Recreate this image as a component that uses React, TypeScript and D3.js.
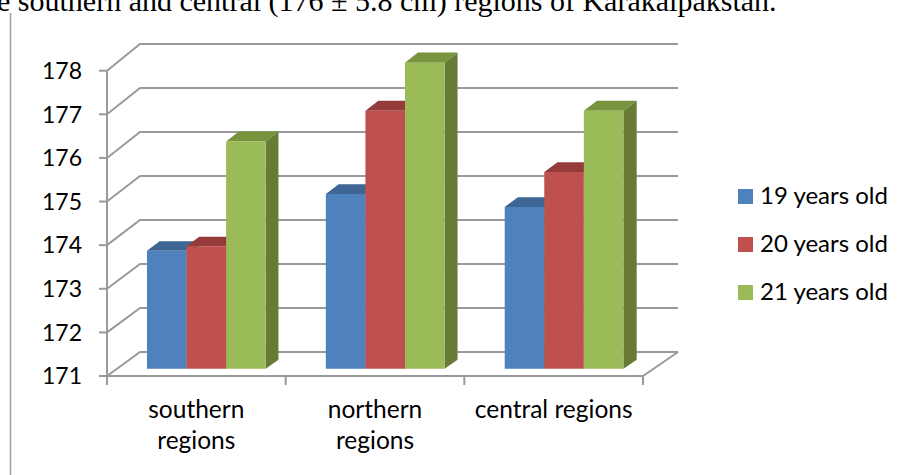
import React from "react";
import * as d3 from "d3";

// Body height by region and age group (cm)
const categories = ["southern regions", "northern regions", "central regions"];
const categoryLines = [["southern", "regions"], ["northern", "regions"], ["central regions"]];
const seriesNames = ["19 years old", "20 years old", "21 years old"];
const age19 = [173.7, 175.0, 174.7];
const age20 = [173.8, 176.9, 175.5];
const age21 = [176.2, 178.0, 176.9];
const yTicks = [171, 172, 173, 174, 175, 176, 177, 178];
const captionText = "e southern and central (176 \u00b1 5.8 cm) regions of Karakalpakstan.";

const seriesValues = [age19, age20, age21];
const frontColors = ["#4F81BD", "#C0504D", "#9BBB59"];
const topColors = ["#3E6593", "#953B39", "#77933C"];
const sideColors = ["#385D8A", "#8C3836", "#677B37"];

const W = 906;
const H = 475;
const FONT = "Lato, 'Open Sans', sans-serif";
const GRID = "#9a9a9a";

export default function App() {
  // front plane of the 3D box
  const xFront = d3.scaleBand<string>().domain(categories).range([107, 643]);
  const yFront = d3.scaleLinear().domain([171, 178]).range([376, 70.7]);
  // back wall
  const xBack = d3.scaleLinear().domain([107, 643]).range([140, 678]);
  const yBack = d3.scaleLinear().domain([171, 178]).range([352, 44]);
  const x1 = d3
    .scaleBand<string>()
    .domain(seriesNames)
    .range([0, xFront.bandwidth()])
    .paddingInner(0)
    .paddingOuter(0.76);

  const proj = (x: number, v: number, t: number): [number, number] => {
    const xf = x;
    const xb = xBack(x);
    const yf = yFront(v);
    const yb = yBack(v);
    return [xf + t * (xb - xf), yf + t * (yb - yf)];
  };
  const poly = (pts: [number, number][]) => pts.map((p) => p.join(",")).join(" ");

  const t0 = 0.3;
  const t1 = 0.68;
  const vMin = 171;
  const [x0, x1r] = xFront.range();

  const bars: React.ReactNode[] = [];
  categories.forEach((cat, ci) => {
    seriesNames.forEach((s, si) => {
      const v = seriesValues[si][ci];
      const l = (xFront(cat) as number) + (x1(s) as number);
      const r = l + x1.bandwidth();
      const front = poly([proj(l, vMin, t0), proj(r, vMin, t0), proj(r, v, t0), proj(l, v, t0)]);
      const top = poly([proj(l, v, t0), proj(r, v, t0), proj(r, v, t1), proj(l, v, t1)]);
      const side = poly([proj(r, vMin, t0), proj(r, vMin, t1), proj(r, v, t1), proj(r, v, t0)]);
      bars.push(
        <g key={`${ci}-${si}`}>
          <polygon points={side} fill={sideColors[si]} />
          <polygon points={top} fill={topColors[si]} />
          <polygon points={front} fill={frontColors[si]} />
        </g>
      );
    });
  });

  const catEdges = [...categories.map((c) => xFront(c) as number), x1r];

  return (
    <svg
      width={W}
      height={H}
      style={{ position: "absolute", left: 0, top: 0, background: "#fff" }}
      fontFamily={FONT}
    >
      <text x={-3} y={11} fontFamily="'Liberation Serif', 'Times New Roman', serif" fontSize={30} fill="#000">
        {captionText}
      </text>
      <line x1={10.5} y1={13} x2={10.5} y2={H} stroke="#a0a0a0" strokeWidth={1.5} />

      {/* back wall gridlines and side wall */}
      {yTicks.map((v) => {
        const [fx, fy] = proj(x0, v, 0);
        const [bx, by] = proj(x0, v, 1);
        const [ex] = proj(x1r, v, 1);
        return (
          <polyline key={v} points={poly([[fx, fy], [bx, by], [ex, by]])} fill="none" stroke={GRID} strokeWidth={2} />
        );
      })}
      {/* floor front edge and right edge */}
      <polyline
        points={poly([proj(x0, vMin, 0), proj(x1r, vMin, 0), proj(x1r, vMin, 1)])}
        fill="none"
        stroke={GRID}
        strokeWidth={2}
      />
      {/* value axis */}
      <line x1={x0} y1={yFront(178)} x2={x0} y2={yFront(171)} stroke={GRID} strokeWidth={2} />
      {yTicks.map((v) => (
        <g key={`t${v}`}>
          <line x1={x0 - 8} y1={yFront(v)} x2={x0} y2={yFront(v)} stroke={GRID} strokeWidth={2} />
          <text x={82} y={yFront(v) + 8.3} textAnchor="end" fontSize={23} fill="#000">
            {v}
          </text>
        </g>
      ))}
      {/* category ticks */}
      {catEdges.map((x, i) => (
        <line key={`c${i}`} x1={x} y1={yFront(171)} x2={x} y2={yFront(171) + 9} stroke={GRID} strokeWidth={2} />
      ))}

      {bars}

      {/* category labels */}
      {categories.map((cat, ci) => {
        const cx = (xFront(cat) as number) + xFront.bandwidth() / 2;
        return (
          <text key={cat} x={cx} y={418} textAnchor="middle" fontSize={24.5} fill="#000">
            {categoryLines[ci].map((ln, li) => (
              <tspan key={li} x={cx} dy={li === 0 ? 0 : 31}>
                {ln}
              </tspan>
            ))}
          </text>
        );
      })}

      {/* legend */}
      {seriesNames.map((s, si) => (
        <g key={s} transform={`translate(738, ${189 + si * 48})`}>
          <rect x={0} y={0} width={15} height={15} fill={frontColors[si]} />
          <text x={22} y={15} fontSize={24} fill="#000">
            {s}
          </text>
        </g>
      ))}
    </svg>
  );
}
